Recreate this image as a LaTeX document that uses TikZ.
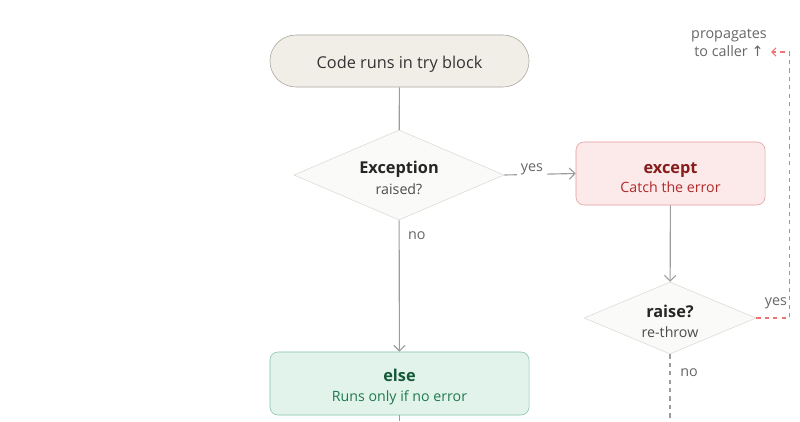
\documentclass[tikz,border=0pt]{standalone}
\usepackage{fontspec}
\setmainfont{Open Sans}
\newfontfamily\symfont{DejaVu Sans}
\usetikzlibrary{positioning}
\usetikzlibrary{shapes.geometric}
\usetikzlibrary{arrows.meta}

\definecolor{trybg}{HTML}{F1EEE8}
\definecolor{trydraw}{HTML}{A8A49C}
\definecolor{decbg}{HTML}{FAFAF8}
\definecolor{decdraw}{HTML}{DCDAD4}
\definecolor{excbg}{HTML}{FCE9E9}
\definecolor{excdraw}{HTML}{E39C9C}
\definecolor{exctitle}{HTML}{861C1C}
\definecolor{exctext}{HTML}{B02A2A}
\definecolor{elsebg}{HTML}{E2F3EB}
\definecolor{elsedraw}{HTML}{82C4A5}
\definecolor{elsetitle}{HTML}{145A38}
\definecolor{elsetext}{HTML}{1E7A4C}
\definecolor{flow}{HTML}{9C9C9C}
\definecolor{labelgrey}{HTML}{666666}
\definecolor{reraise}{HTML}{F07373}

\newcommand{\headfont}{\fontsize{11.6}{14}\selectfont\rule{0pt}{13.5pt}}
\newcommand{\subfont}{\fontsize{10.1}{12}\selectfont}

\tikzset{
  startbox/.style={draw=trydraw, fill=trybg, rounded corners=0.65cm,
    minimum width=6.475cm, minimum height=1.3cm, text=black!80, font=\headfont},
  decision/.style={diamond, draw=decdraw, fill=decbg, align=center,
    inner sep=0pt, text=black!85},
  exceptbox/.style={draw=excdraw, fill=excbg, rounded corners=0.2cm,
    minimum width=4.725cm, minimum height=1.575cm, align=center},
  elsebox/.style={draw=elsedraw, fill=elsebg, rounded corners=0.2cm,
    minimum width=6.475cm, minimum height=1.575cm, align=center},
  flowline/.style={draw=flow, line width=0.8pt},
  flowarrow/.style={flowline, -{Straight Barb[length=4pt,width=8pt]}},
  edgelabel/.style={text=labelgrey, font=\fontsize{10.2}{12.5}\selectfont, inner sep=1pt}
}

\begin{document}
\begin{tikzpicture}[x=0.025cm, y=-0.025cm]
\useasboundingbox (0,0) rectangle (800,421);

\node[startbox] (try) at (399.5,61) {Code runs in try block};
\node[decision, aspect=2.33, minimum width=5.25cm, minimum height=2.25cm] (exc) at (399,175)
  {{\headfont\bfseries Exception}\\[3pt]{\subfont\color{black!70}raised?}};
\node[exceptbox] (except) at (670.5,173.5)
  {{\headfont\bfseries\color{exctitle}except}\\[2pt]{\subfont\color{exctext}Catch the error}};
\node[decision, aspect=2.39, minimum width=4.3cm, minimum height=1.8cm] (raise) at (670,318)
  {{\headfont\bfseries raise?}\\[2pt]{\subfont\color{black!70}re-throw}};
\node[elsebox] (else) at (399.5,383.5)
  {{\headfont\bfseries\color{elsetitle}else}\\[2pt]{\subfont\color{elsetext}Runs only if no error}};

\node[edgelabel, align=center] (prop) at (729,43) {propagates\\to caller {\symfont ↑}};

\coordinate (elseout) at (399.5,421);
\coordinate (noout) at (670,421);
\coordinate (caller) at (771,52);

% main path
\draw[flowline] (try) -- (exc);
\draw[flowarrow] (exc) -- (else) node[edgelabel, pos=0.12, right=5pt] (nolabel) {no};
\draw[flowline] (else) -- (elseout);

% exception path
\draw[flowarrow] (exc.east) -- (except.west);
\node[edgelabel, fill=white, inner sep=3pt] (yeslabel) at (532,169) {yes};
\draw[flowarrow] (except) -- (raise);
\draw[flowline, dashed] (raise.south) -- (noout) node[edgelabel, pos=0.28, right=6pt] (rnolabel) {no};
\draw[reraise, line width=0.8pt, dashed, -{Straight Barb[length=3pt,width=6pt]}]
  (raise.east) -- ++(33,0) |- (caller);
\node[edgelabel] (ryeslabel) at (776,303) {yes};

\end{tikzpicture}
\end{document}
